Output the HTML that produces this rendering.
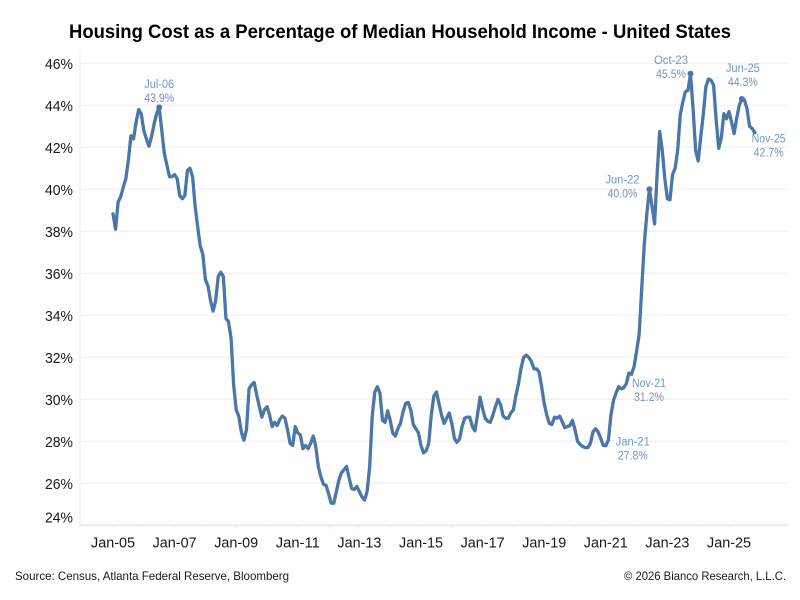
<!DOCTYPE html>
<html lang="en">
<head>
<meta charset="utf-8">
<title>Housing Cost as a Percentage of Median Household Income - United States</title>
<style>
  html, body { margin: 0; padding: 0; background: #fff; }
  svg { display: block; font-family: "Liberation Sans", sans-serif; }
</style>
</head>
<body>
<svg id="chart" width="800" height="600" viewBox="0 0 800 600" xmlns="http://www.w3.org/2000/svg">
  <rect x="0" y="0" width="800" height="600" fill="#ffffff"/>
  <text x="400" y="38" text-anchor="middle" font-size="19.5" font-weight="700" fill="#000000" textLength="662" lengthAdjust="spacingAndGlyphs">Housing Cost as a Percentage of Median Household Income - United States</text>
  <g id="grid"></g>
  <g id="axes"></g>
  <g id="series"></g>
  <g id="notes"></g>
  <text x="15" y="580" font-size="12" fill="#1a1a1a" textLength="274" lengthAdjust="spacingAndGlyphs">Source: Census, Atlanta Federal Reserve, Bloomberg</text>
  <text x="786" y="580" font-size="12" text-anchor="end" fill="#1a1a1a" textLength="162" lengthAdjust="spacingAndGlyphs">© 2026 Bianco Research, L.L.C.</text>
</svg>
<script>
// Monthly series starting Jan-05, in percent of median household income
const housingCostPct = [
  38.83,38.1,39.4,39.65,40.1,40.5,41.4,42.55,42.4,43.2,
  43.8,43.6,42.8,42.4,42.05,42.5,43.1,43.6,43.9,42.8,
  41.7,41.15,40.6,40.6,40.7,40.5,39.7,39.55,39.7,40.9,
  41.0,40.6,39.2,38.2,37.3,36.9,35.7,35.4,34.7,34.2,
  34.7,35.85,36.05,35.85,33.85,33.7,32.9,30.7,29.5,29.2,
  28.45,28.05,28.55,30.5,30.7,30.8,30.2,29.65,29.15,29.5,
  29.65,29.25,28.7,28.9,28.75,29.05,29.2,29.1,28.55,27.9,
  27.8,28.7,28.4,28.3,27.65,27.8,27.65,27.9,28.25,27.75,
  26.8,26.3,25.95,25.9,25.5,25.05,25.05,25.6,26.15,26.5,
  26.65,26.8,26.25,25.75,25.7,25.85,25.6,25.35,25.2,25.6,
  26.8,29.2,30.35,30.6,30.3,29.0,28.9,29.45,29.0,28.4,
  28.25,28.6,28.85,29.4,29.8,29.85,29.5,28.8,28.6,28.4,
  27.8,27.45,27.55,27.9,29.25,30.15,30.35,29.8,29.25,28.85,
  29.1,29.35,28.85,28.15,27.95,28.1,28.7,29.1,29.15,29.15,
  28.7,28.5,29.25,30.1,29.55,29.1,28.95,28.9,29.25,29.65,
  30.0,29.75,29.2,29.1,29.1,29.35,29.5,30.2,30.75,31.5,
  32.0,32.1,32.0,31.8,31.45,31.45,31.3,30.6,29.8,29.25,
  28.85,28.8,29.15,29.1,29.2,28.95,28.65,28.7,28.75,29.0,
  28.55,28.0,27.85,27.75,27.7,27.7,27.9,28.45,28.6,28.45,
  28.15,27.8,27.8,28.05,29.25,29.95,30.3,30.6,30.5,30.55,
  30.75,31.25,31.2,31.55,32.3,33.1,35.3,37.4,38.85,40.0,
  39.2,38.35,40.75,42.75,41.85,40.5,39.55,39.5,40.7,41.0,
  41.85,43.55,44.15,44.65,44.7,45.5,43.85,41.85,41.35,42.5,
  43.6,44.9,45.25,45.2,44.95,43.3,41.95,42.45,43.6,43.35,
  43.7,43.2,42.65,43.4,44.0,44.3,44.25,43.85,43.0,42.9,
  42.7
];
const yTickValues = [24,26,28,30,32,34,36,38,40,42,44,46];
const xTickYears = [2005,2006,2007,2008,2009,2010,2011,2012,2013,2014,2015,2016,2017,2018,2019,2020,2021,2022,2023,2024,2025];
const xTickLabelYears = [2005,2007,2009,2011,2013,2015,2017,2019,2021,2023,2025];
const noteDates = ['Jul-06','Jan-21','Nov-21','Jun-22','Oct-23','Jun-25','Nov-25'];
const noteIndexes = [18,192,202,209,225,245,250];

const SVG_NS = 'http://www.w3.org/2000/svg';
const plotLeft = 80, plotRight = 788, plotTop = 50.7, plotBottom = 525.3;
const x0 = 113, monthPx = 2.5667;
const y46 = 63.3, yPxPerPct = 21;
const lineColor = '#4a76a8', dateColor = '#6f98cc', valueColor = '#7b8fc4';

function xScale(month) { return x0 + month * monthPx; }
function yScale(value) { return y46 + (46 - value) * yPxPerPct; }

function make(tag, parent, attrs, text) {
  const el = document.createElementNS(SVG_NS, tag);
  for (const k in attrs) el.setAttribute(k, attrs[k]);
  if (text !== undefined) el.textContent = text;
  parent.appendChild(el);
  return el;
}

const gridG = document.getElementById('grid');
const axesG = document.getElementById('axes');
const seriesG = document.getElementById('series');
const notesG = document.getElementById('notes');

// Y gridlines and tick labels
yTickValues.forEach(function (v) {
  const y = yScale(v);
  const line = make('line', gridG, { x1: plotLeft, x2: plotRight, y1: y, y2: y, stroke: v === 24 ? '#ebebeb' : '#f0f0f0', 'stroke-width': v === 24 ? 2 : 1.2 });
  
  
  const label = make('text', axesG, { x: 73, y: Math.min(y, 517) + 5.5, 'text-anchor': 'end', 'font-size': 15, fill: '#1a1a1a', textLength: 28, lengthAdjust: 'spacingAndGlyphs' }, v + '%');
  
  
});

// Y axis line
const yAxis = make('line', axesG, { x1: plotLeft, x2: plotLeft, y1: plotTop, y2: plotBottom, stroke: '#f0f0f0', 'stroke-width': 1.2 });



// X ticks and labels
xTickYears.forEach(function (year) {
  const x = xScale((year - 2005) * 12);
  const tick = make('line', axesG, { x1: x, x2: x, y1: plotBottom, y2: plotBottom + 4, stroke: '#f0f0f0', 'stroke-width': 1 });
  
  
});
xTickLabelYears.forEach(function (year) {
  const x = xScale((year - 2005) * 12);
  const label = make('text', axesG, { x: x, y: 547.5, 'text-anchor': 'middle', 'font-size': 15, fill: '#1a1a1a', textLength: 44, lengthAdjust: 'spacingAndGlyphs' }, 'Jan-' + String(year).slice(2));
  
  
});

// Data line
const points = housingCostPct.map(function (v, i) { return xScale(i).toFixed(2) + ',' + yScale(v).toFixed(2); }).join(' ');
const dataLine = make('polyline', seriesG, { points: points, fill: 'none', stroke: lineColor, 'stroke-width': 3.3, 'stroke-linejoin': 'round', 'stroke-linecap': 'round' });



// Label placement relative to each annotated point
const noteOffsetX = [0, 27, 17.5, -27, -19.5, 1, 14];
const noteOffsetY = [-19.5, 0, 13, -6, -10, -27, 10];

noteIndexes.forEach(function (idx, i) {
  const px = xScale(idx), py = yScale(housingCostPct[idx]);
  const dot = make('circle', seriesG, { cx: px, cy: py, r: (i === 1 || i === 2 || i === 6) ? 1.8 : 3, fill: lineColor });
  
  
  const cx = px + noteOffsetX[i];
  const top = py + noteOffsetY[i];
  const dateLabel = make('text', notesG, { x: cx, y: top, 'text-anchor': 'middle', 'font-size': 11.5, fill: dateColor, textLength: i === 0 ? 30 : 34, lengthAdjust: 'spacingAndGlyphs' }, noteDates[i]);
  
  
  const valueLabel = make('text', notesG, { x: cx, y: top + 14, 'text-anchor': 'middle', 'font-size': 11.5, fill: valueColor, textLength: 30, lengthAdjust: 'spacingAndGlyphs' }, housingCostPct[idx].toFixed(1) + '%');
  
  
});
</script>
</body>
</html>
